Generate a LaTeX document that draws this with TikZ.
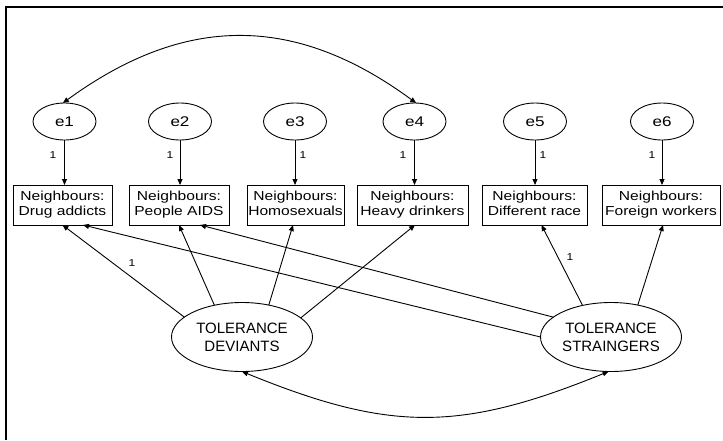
\documentclass[tikz,border=0pt]{standalone}
\usepackage{fontspec}
\setmainfont{Liberation Sans}
\usetikzlibrary{arrows.meta,shapes.geometric}
% horizontally widened text, as in the drawing program's output
\newcommand{\stretchtxt}[2][1.2]{\scalebox{#1}[1]{#2}}
\newcommand{\twoline}[2]{\stretchtxt{\begin{tabular}{@{}c@{}}#1\\#2\end{tabular}}}

\begin{document}
\begin{tikzpicture}[x=1pt,y=-1pt,
  every node/.style={inner sep=0pt, outer sep=0pt},
  tip/.style={-{Triangle[length=6pt,width=5pt]}},
  conn/.style={line width=0.9pt, tip},
  cov/.style={line width=0.9pt, {Triangle[length=6pt,width=5pt]}-{Triangle[length=6pt,width=5pt]}},
  errvar/.style={ellipse, draw, line width=0.9pt, minimum width=63pt, minimum height=37pt,
    font=\fontsize{14}{16}\selectfont},
  latent/.style={ellipse, draw, line width=0.9pt, minimum width=141pt, minimum height=69pt,
    font=\fontsize{15}{18}\selectfont, align=center},
  obs/.style={rectangle, draw, line width=0.9pt, minimum height=40pt,
    font=\fontsize{13}{15}\selectfont},
  wt/.style={font=\fontsize{10}{11}\selectfont}
]
\useasboundingbox (0,0) rectangle (723,440);

% frame edges
\draw[line width=2pt] (5.5,440) -- (5.5,6.5) -- (723,6.5);

% error terms
\node[errvar] (e1) at (64.5,121.5) {\stretchtxt[1.22]{e1}};
\node[errvar] (e2) at (180,121.5) {\stretchtxt[1.22]{e2}};
\node[errvar] (e3) at (295,121.5) {\stretchtxt[1.22]{e3}};
\node[errvar] (e4) at (414.5,121.5) {\stretchtxt[1.22]{e4}};
\node[errvar] (e5) at (535,121.5) {\stretchtxt[1.22]{e5}};
\node[errvar] (e6) at (662,121.5) {\stretchtxt[1.22]{e6}};

% observed variables
\node[obs, minimum width=99pt]  (b1) at (62.5,205)  {\twoline{Neighbours:}{Drug addicts}};
\node[obs, minimum width=100pt] (b2) at (179,205)   {\twoline{Neighbours:}{People AIDS}};
\node[obs, minimum width=97pt]  (b3) at (295.5,205) {\twoline{Neighbours:}{Homosexuals}};
\node[obs, minimum width=111pt] (b4) at (412.5,205) {\twoline{Neighbours:}{Heavy drinkers}};
\node[obs, minimum width=105pt] (b5) at (534.5,205) {\twoline{Neighbours:}{Different race}};
\node[obs, minimum width=118pt] (b6) at (661,205)   {\twoline{Neighbours:}{Foreign workers}};

% latent factors
\node[latent] (dev) at (242,337) {TOLERANCE\\DEVIANTS};
\node[latent] (str) at (611,337) {TOLERANCE\\STRAINGERS};

% error -> indicator paths
\foreach \i in {1,...,6}{
  \draw[conn] (e\i.south) -- (e\i.south |- b\i.north);
}
\node[wt] (w1) at (53,155)  {\stretchtxt{1}};
\node[wt] (w2) at (170,155) {\stretchtxt{1}};
\node[wt] (w3) at (303,155) {\stretchtxt{1}};
\node[wt] (w4) at (403,155) {\stretchtxt{1}};
\node[wt] (w5) at (543,155) {\stretchtxt{1}};
\node[wt] (w6) at (652,155) {\stretchtxt{1}};

% factor loadings
\draw[conn] (dev.161) -- (b1.south);
\draw[conn] (dev.131) -- (b2.south);
\draw[conn] (dev.50)  -- ([xshift=-2.5pt]b3.south);
\draw[conn] (dev.18)  -- ([xshift=2.5pt]b4.south);
\draw[conn] (str.132) -- ([xshift=7pt]b5.south);
\draw[conn] (str.50)  -- ([xshift=2pt]b6.south);
\draw[conn] (str.161) -- ([xshift=21pt]b2.south);
\draw[conn] (str.180) -- ([xshift=20.5pt]b1.south);
\node[wt] (l1) at (132,263) {\stretchtxt{1}};
\node[wt] (l5) at (570,257) {\stretchtxt{1}};

% covariances
\draw[cov] (e1.95) .. controls (185,14) and (295,14) .. (e4.85);
\draw[cov] (dev.south) .. controls (390,432) and (460,432) .. (str.266);
\end{tikzpicture}
\end{document}
